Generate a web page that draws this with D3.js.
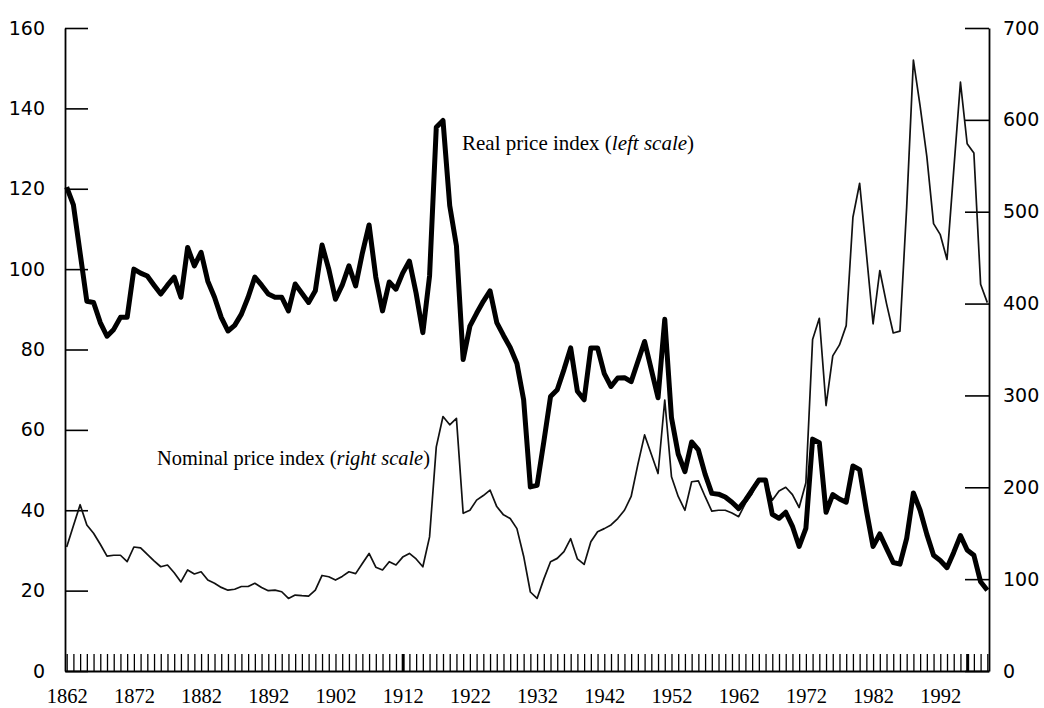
<!DOCTYPE html>
<html>
<head>
<meta charset="utf-8">
<script src="https://cdnjs.cloudflare.com/ajax/libs/d3/7.8.5/d3.min.js"></script>
<style>
  body { margin: 0; background: #fff; }
  svg { display: block; }
</style>
</head>
<body>
<svg id="chart"></svg>
<script>
// one value per year, 1862-1999
const years = d3.range(1862, 2000);

// real price index (left scale)
const realIndex = [
  120.4, 116, 104, 92, 91.7, 86.7, 83.3, 85, 88, 88,
  100, 99, 98.3, 96, 93.8, 96, 98, 93, 105.4, 100.8,
  104.2, 97, 93, 88, 84.6, 86, 88.8, 93, 98, 96,
  93.8, 93, 93, 89.6, 96.3, 94, 91.7, 94.6, 106, 100,
  92.5, 96, 100.8, 95.8, 104, 111, 98, 89.6, 96.8, 95,
  99, 102, 94, 84.2, 98.3, 135.3, 137, 115.8, 105.8, 77.5,
  85.8, 89, 92, 94.6, 86.7, 83.5, 80.5, 76.5, 67.5, 45.8,
  46.2, 57, 68.3, 70, 75, 80.4, 69.6, 67.5, 80.4, 80.4,
  74, 70.8, 72.9, 73, 72, 77, 82, 75, 68, 87.5,
  63, 54, 49.6, 57, 55, 49, 44.2, 44, 43.3, 42,
  40.4, 42.5, 45, 47.5, 47.5, 39, 38, 39.5, 36, 31,
  35.5, 57.7, 56.8, 39.5, 43.9, 42.8, 42, 51, 50.1, 40,
  31, 34.1, 30.5, 27, 26.6, 33, 44.3, 40, 34, 28.8,
  27.5, 25.7, 29.5, 33.7, 30.1, 28.8, 22.2, 20.1
];

// nominal price index (right scale)
const nominalIndex = [
  135, 158, 181, 159, 150, 138, 125, 126, 126, 119,
  135, 134, 127, 120, 113.5, 115.4, 107, 97, 110, 105.6,
  108, 99, 95.5, 91, 88, 89, 92, 92, 95.5, 91,
  87.4, 88, 86.3, 79, 82.7, 82, 81.6, 88, 104, 102.6,
  99, 103, 108, 106, 117, 128, 113, 110, 119, 115.4,
  124, 128, 122, 113.5, 146, 244, 277, 268, 275, 171.7,
  175, 186, 191, 197, 179, 170, 166, 155, 125, 86,
  79, 100, 119, 122.6, 130, 144, 122, 116, 140.8, 151.6,
  155, 159, 166, 175, 190, 225, 257, 236, 215, 295,
  211.5, 190, 175, 206, 207, 190, 174, 175, 175, 172,
  168, 182.6, 193, 208, 207, 186, 196, 200, 192, 178,
  205, 361, 384, 289, 343, 355, 376, 494, 531, 455,
  378, 436, 400, 368, 370, 505, 665, 615, 560, 487,
  475, 448, 545, 641, 574, 564, 421, 401
];

const yearLabels = [1862, 1872, 1882, 1892, 1902, 1912, 1922, 1932, 1942, 1952, 1962, 1972, 1982, 1992];
const leftTicks = [0, 20, 40, 60, 80, 100, 120, 140, 160];
const rightTicks = [0, 100, 200, 300, 400, 500, 600, 700];
const heavyTicks = [1912, 1996];

class PriceChart {
  constructor(_parent) {
    this.parent = _parent;
    this.init();
  }

  init() {
    let self = this;

    self.margin = {top: 28, right: 55, bottom: 37, left: 65};
    self.width = 1044 - self.margin.left - self.margin.right;
    self.height = 708 - self.margin.top - self.margin.bottom;

    var svg = d3.select('#' + self.parent)
        .attr('width', 1044)
        .attr('height', 708),
      g = svg.append('g').attr('transform', 'translate(' + self.margin.left + ',' + self.margin.top + ')');

    svg.insert('rect', ':first-child').attr('width', 1044).attr('height', 708).attr('fill', '#fff');

    var x = d3.scaleLinear()
        .domain([1861.75, 1999.25])
        .range([0, self.width]);

    var yLeft = d3.scaleLinear()
        .domain([0, 160])
        .range([self.height, 0]);

    var yRight = d3.scaleLinear()
        .domain([0, 700])
        .range([self.height, 0]);

    var real = years.map(function(y, i) { return {year: y, value: realIndex[i]}; });
    var nominal = years.map(function(y, i) { return {year: y, value: nominalIndex[i]}; });

    // axes
    var xAxis = g.append('g')
        .attr('class', 'x-axis')
        .attr('transform', 'translate(0,' + self.height + ')')
        .call(d3.axisBottom(x)
          .tickValues(years)
          .tickSizeInner(-17)
          .tickSizeOuter(0)
          .tickPadding(17)
          .tickFormat(function(d) { return yearLabels.indexOf(d) >= 0 ? d : ''; }));
    xAxis.selectAll('text')
        .attr('font-family', '"Liberation Serif", "Times New Roman", serif')
        .attr('font-size', 20.5);
    xAxis.selectAll('.tick line')
        .attr('stroke-width', function(d) { return heavyTicks.indexOf(d) >= 0 ? 3 : 1.3; });

    var leftAxis = g.append('g')
        .attr('class', 'y-axis')
        .call(d3.axisLeft(yLeft)
          .tickValues(leftTicks)
          .tickSizeInner(-23)
          .tickSizeOuter(0)
          .tickPadding(20));

    var rightAxis = g.append('g')
        .attr('class', 'y-axis')
        .attr('transform', 'translate(' + self.width + ',0)')
        .call(d3.axisRight(yRight)
          .tickValues(rightTicks)
          .tickSizeInner(-24)
          .tickSizeOuter(0)
          .tickPadding(14));

    [leftAxis, rightAxis].forEach(function(a) {
      a.selectAll('text')
          .attr('font-family', '"DejaVu Sans", Verdana, sans-serif')
          .attr('font-size', 19);
      a.selectAll('.tick line').attr('stroke-width', 1.6);
    });

    g.selectAll('.domain').attr('stroke-width', 1.8);
    g.selectAll('text').attr('fill', '#000');
    g.selectAll('line, .domain').attr('stroke', '#000');

    // lines
    var lineLeft = d3.line()
        .x(function(d) { return x(d.year); })
        .y(function(d) { return yLeft(d.value); });

    var lineRight = d3.line()
        .x(function(d) { return x(d.year); })
        .y(function(d) { return yRight(d.value); });

    g.append('path')
        .data([nominal])
        .attr('class', 'line')
        .attr('fill', 'none')
        .attr('stroke', '#111')
        .attr('stroke-width', '1.7px')
        .attr('stroke-linejoin', 'round')
        .attr('d', lineRight);

    g.append('path')
        .data([real])
        .attr('class', 'line')
        .attr('fill', 'none')
        .attr('stroke', '#000')
        .attr('stroke-width', '5px')
        .attr('stroke-linejoin', 'round')
        .attr('d', lineLeft);

    // labels on the lines
    var serif = '"Liberation Serif", "Times New Roman", serif';

    var realLabel = svg.append('text')
        .attr('x', 462)
        .attr('y', 150)
        .attr('font-family', serif)
        .attr('font-size', 21)
        .attr('fill', '#000');
    realLabel.append('tspan').text('Real price index (');
    realLabel.append('tspan').attr('font-style', 'italic').text('left scale');
    realLabel.append('tspan').text(')');

    var nomLabel = svg.append('text')
        .attr('x', 157)
        .attr('y', 465)
        .attr('font-family', serif)
        .attr('font-size', 20.4)
        .attr('fill', '#000');
    nomLabel.append('tspan').text('Nominal price index (');
    nomLabel.append('tspan').attr('font-style', 'italic').text('right scale');
    nomLabel.append('tspan').text(')');
  }
}

new PriceChart('chart');
</script>
</body>
</html>
